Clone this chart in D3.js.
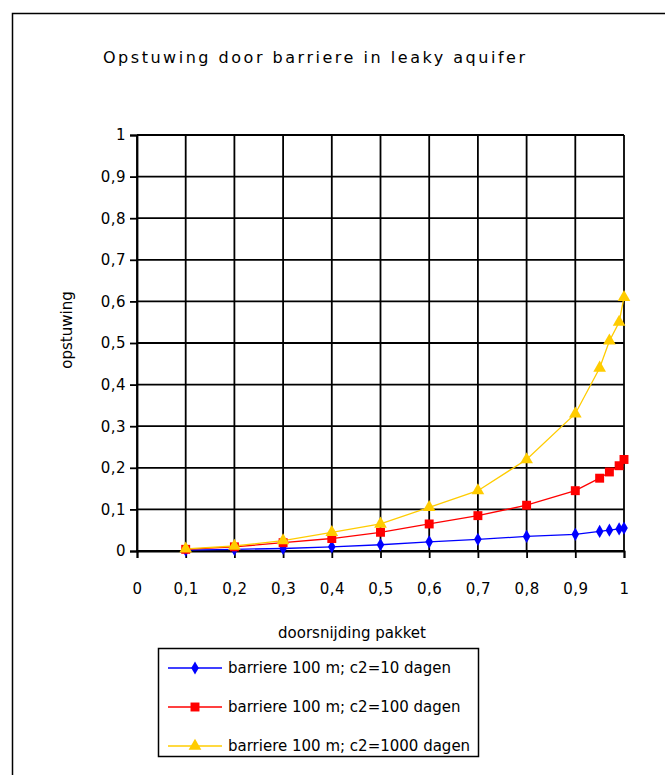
<!DOCTYPE html>
<html>
<head>
<meta charset="utf-8">
<script src="https://cdn.jsdelivr.net/npm/d3@7"></script>
<style>
  body { margin: 0; background: #fff; }
  text { font-family: "DejaVu Sans", Verdana, sans-serif; fill: #000; }
</style>
</head>
<body>
<div id="chart"></div>
<script>
var svgWidth = 665;
var svgHeight = 775;

// data
var xValues = [0.1, 0.2, 0.3, 0.4, 0.5, 0.6, 0.7, 0.8, 0.9, 0.95, 0.97, 0.99, 1];
var c2_10 = [0.002, 0.004, 0.006, 0.01, 0.015, 0.022, 0.028, 0.035, 0.04, 0.047, 0.05, 0.053, 0.055];
var c2_100 = [0.004, 0.01, 0.02, 0.03, 0.045, 0.065, 0.085, 0.11, 0.145, 0.175, 0.19, 0.205, 0.22];
var c2_1000 = [0.005, 0.012, 0.025, 0.045, 0.065, 0.105, 0.145, 0.22, 0.33, 0.44, 0.505, 0.55, 0.61];
var seriesNames = ["barriere 100 m; c2=10 dagen", "barriere 100 m; c2=100 dagen", "barriere 100 m; c2=1000 dagen"];
var seriesColors = ["#0000ff", "#ff0000", "#ffcc00"];
var tickValues = [0, 0.1, 0.2, 0.3, 0.4, 0.5, 0.6, 0.7, 0.8, 0.9, 1];

var margin = { top: 135, left: 137 };
var width = 487;
var height = 416;

var series = [c2_10, c2_100, c2_1000].map(function (vals, i) {
    return {
        name: seriesNames[i],
        color: seriesColors[i],
        points: xValues.map(function (x, j) { return { x: x, y: vals[j] }; })
    };
});

var svg = d3.select("#chart")
    .append("svg")
    .attr("width", svgWidth)
    .attr("height", svgHeight);

// outer frame
svg.append("rect")
    .attr("x", 12.5).attr("y", 13.5)
    .attr("width", 700).attr("height", 800)
    .attr("fill", "none").attr("stroke", "#000").attr("stroke-width", 1.5);

svg.append("text")
    .attr("x", 103).attr("y", 63)
    .attr("font-size", "16px")
    .attr("textLength", 422)
    .attr("lengthAdjust", "spacing")
    .text("Opstuwing door barriere in leaky aquifer");

var chartGroup = svg.append("g")
    .attr("transform", `translate(${margin.left}, ${margin.top})`);

var xScale = d3.scaleLinear().domain([0, 1]).range([0, width]);
var yScale = d3.scaleLinear().domain([0, 1]).range([height, 0]);

var fmt = function (d) { return String(d3.format("~g")(d)).replace(".", ","); };

// gridlines
chartGroup.append("g")
    .selectAll("line.h")
    .data(tickValues)
    .enter().append("line")
    .attr("x1", 0).attr("x2", width)
    .attr("y1", d => yScale(d)).attr("y2", d => yScale(d))
    .attr("stroke", "#000").attr("stroke-width", 1.8);

chartGroup.append("g")
    .selectAll("line.v")
    .data(tickValues)
    .enter().append("line")
    .attr("x1", d => xScale(d)).attr("x2", d => xScale(d))
    .attr("y1", 0).attr("y2", height)
    .attr("stroke", "#000").attr("stroke-width", 1.8);

// axes
var leftAxis = d3.axisLeft(yScale).tickValues(tickValues).tickFormat(fmt).tickSize(7).tickPadding(4);
var bottomAxis = d3.axisBottom(xScale).tickValues(tickValues).tickFormat(fmt).tickSize(7).tickPadding(25);

var gy = chartGroup.append("g").call(leftAxis);
var gx = chartGroup.append("g").attr("transform", `translate(0, ${height})`).call(bottomAxis);
[gx, gy].forEach(function (g) {
    g.select(".domain").attr("stroke", "#000").attr("stroke-width", 1.8);
    g.selectAll(".tick line").attr("stroke", "#000").attr("stroke-width", 1.8);
    g.selectAll(".tick text").attr("font-size", "15px").attr("letter-spacing", "0.5px")
        .attr("font-family", "DejaVu Sans, sans-serif").attr("fill", "#000");
});

// lines
var line = d3.line().x(d => xScale(d.x)).y(d => yScale(d.y));
series.forEach(function (s) {
    chartGroup.append("path")
        .datum(s.points)
        .attr("d", line)
        .attr("fill", "none")
        .attr("stroke", s.color)
        .attr("stroke-width", 1.3);
});

var symbols = [d3.symbolDiamond, d3.symbolSquare, d3.symbolTriangle];
var symSizes = [50, 80, 70];
series.forEach(function (s, i) {
    chartGroup.append("g")
        .selectAll("path")
        .data(s.points)
        .enter().append("path")
        .attr("transform", d => `translate(${xScale(d.x)}, ${yScale(d.y)})`)
        .attr("d", d3.symbol().type(symbols[i]).size(symSizes[i]))
        .attr("fill", s.color);
});

// axis titles
chartGroup.append("text")
    .attr("transform", "rotate(-90)")
    .attr("x", -(height / 2) + 13)
    .attr("y", -65)
    .attr("font-size", "15px")
    .style("text-anchor", "middle")
    .text("opstuwing");

chartGroup.append("text")
    .attr("x", 215)
    .attr("y", 503)
    .attr("font-size", "15px")
    .style("text-anchor", "middle")
    .text("doorsnijding pakket");

// legend
var legend = svg.append("g").attr("transform", "translate(158, 648)");
legend.append("rect")
    .attr("x", 0.5).attr("y", 0.5)
    .attr("width", 320).attr("height", 108)
    .attr("fill", "#fff").attr("stroke", "#000").attr("stroke-width", 1.5);

series.forEach(function (s, i) {
    var yy = 20 + i * 39;
    legend.append("line")
        .attr("x1", 10).attr("x2", 64)
        .attr("y1", yy).attr("y2", yy)
        .attr("stroke", s.color).attr("stroke-width", 1.3);
    legend.append("path")
        .attr("transform", `translate(37, ${yy})`)
        .attr("d", d3.symbol().type(symbols[i]).size(symSizes[i]))
        .attr("fill", s.color);
    legend.append("text")
        .attr("x", 70).attr("y", yy + 5)
        .attr("font-size", "15px")
        .text(s.name);
});
</script>
</body>
</html>
